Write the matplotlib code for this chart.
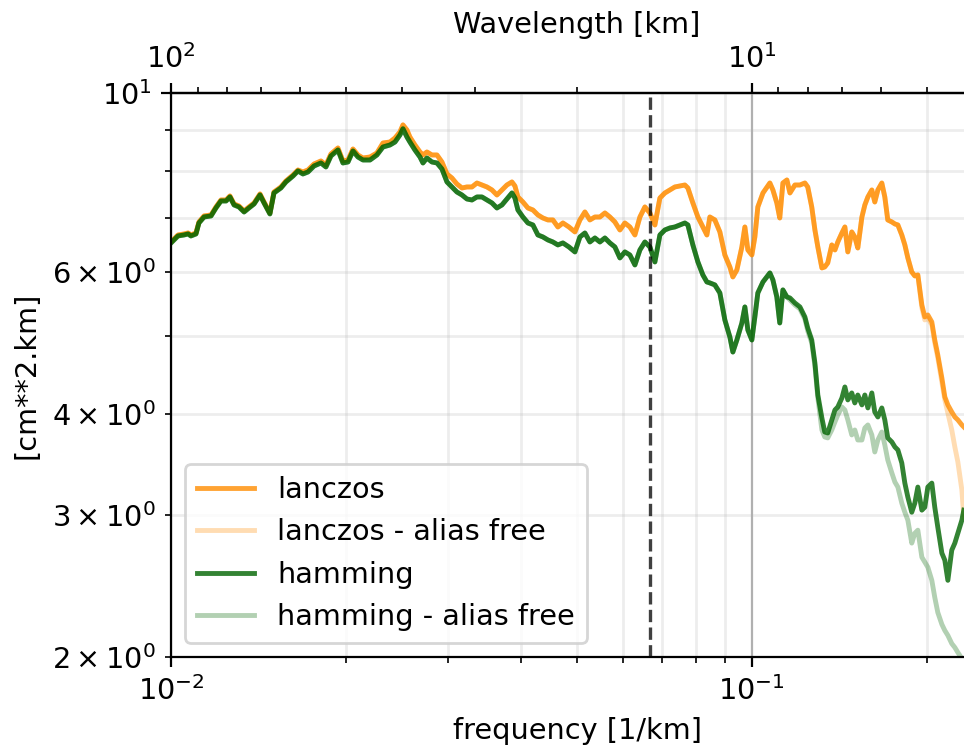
import matplotlib
matplotlib.use("Agg")
import matplotlib.pyplot as plt
from matplotlib.ticker import FixedLocator, LogLocator, NullFormatter

# Power spectra of two interpolation kernels, with and without aliasing
frequency = [
    0.01000, 0.01028, 0.01053, 0.01070, 0.01082, 0.01104, 0.01117, 0.01140, 0.01172, 0.01195,
    0.01219, 0.01244, 0.01263, 0.01284, 0.01309, 0.01336, 0.01362, 0.01390, 0.01423, 0.01446,
    0.01480, 0.01504, 0.01546, 0.01577, 0.01622, 0.01654, 0.01687, 0.01721, 0.01763, 0.01812,
    0.01848, 0.01885, 0.01938, 0.01977, 0.02017, 0.02057, 0.02098, 0.02140,
    0.02201, 0.02262, 0.02317, 0.02382, 0.02430, 0.02478, 0.02508, 0.02548, 0.02578, 0.02630,
    0.02683, 0.02715, 0.02758, 0.02813, 0.02870, 0.02927, 0.02986, 0.03045, 0.03106, 0.03169,
    0.03232, 0.03297, 0.03363, 0.03430, 0.03499, 0.03569, 0.03640, 0.03713, 0.03787, 0.03863,
    0.03909, 0.03956, 0.04035, 0.04116, 0.04198, 0.04282, 0.04368, 0.04455, 0.04544, 0.04635,
    0.04728, 0.04842,
    0.04959, 0.05058, 0.05159, 0.05262, 0.05368, 0.05475, 0.05585, 0.05696, 0.05810, 0.05927,
    0.06045, 0.06166, 0.06290, 0.06416, 0.06544, 0.06675, 0.06809, 0.06945, 0.07084, 0.07226,
    0.07370, 0.07518, 0.07668, 0.07760, 0.07915, 0.08074, 0.08235, 0.08367, 0.08467, 0.08636,
    0.08809, 0.08985, 0.09165, 0.09275, 0.09423, 0.09612, 0.09727, 0.09843, 0.1000, 0.1012,
    0.1024, 0.1045,
    0.1074, 0.1087, 0.1104, 0.1117, 0.1131, 0.1149, 0.1163, 0.1186, 0.1210, 0.1234,
    0.1248, 0.1268, 0.1284, 0.1299, 0.1320, 0.1335, 0.1351, 0.1373, 0.1390, 0.1406,
    0.1429, 0.1446, 0.1463, 0.1486, 0.1504, 0.1522, 0.1547, 0.1565, 0.1584, 0.1609,
    0.1628, 0.1648, 0.1674, 0.1694, 0.1714, 0.1742, 0.1763, 0.1784, 0.1812, 0.1834,
    0.1856, 0.1885, 0.1908, 0.1931, 0.1962, 0.1985, 0.2009, 0.2041, 0.2065, 0.2090,
    0.2124, 0.2149, 0.2175, 0.2209, 0.2236, 0.2263, 0.2299, 0.2317,
]

lanczos = [
    6.537, 6.669, 6.688, 6.707, 6.669, 6.707, 6.921, 7.041, 7.061, 7.224,
    7.369, 7.369, 7.454, 7.286, 7.244, 7.142, 7.224, 7.307, 7.497, 7.327,
    7.101, 7.539, 7.648, 7.780, 7.914, 8.028, 7.982, 8.028, 8.166, 8.237,
    8.143, 8.403, 8.548, 8.237, 8.260, 8.523, 8.379, 8.307,
    8.331, 8.427, 8.670, 8.695, 8.795, 8.947, 9.130, 8.998, 8.820, 8.621,
    8.451, 8.379, 8.451, 8.379, 8.379, 8.213, 7.937, 7.847, 7.713, 7.626,
    7.648, 7.648, 7.735, 7.691, 7.648, 7.583, 7.475, 7.583, 7.691, 7.758,
    7.670, 7.433, 7.327, 7.203, 7.162, 7.061, 7.000, 6.961, 6.961, 6.823,
    6.901, 6.823,
    6.727, 6.961, 7.121, 6.961, 7.020, 7.020, 7.101, 7.020, 6.921, 6.765,
    6.901, 6.823, 6.669, 7.020, 7.224, 7.101, 6.862, 7.411, 7.518, 7.583,
    7.648, 7.670, 7.691, 7.626, 7.307, 7.020, 6.823, 6.669, 7.020, 6.961,
    6.727, 6.299, 6.087, 5.916, 6.035, 6.445, 6.823, 6.390, 6.299, 6.631,
    7.224, 7.518,
    7.735, 7.583, 7.307, 7.000, 7.735, 7.802, 7.518, 7.691, 7.691, 7.735,
    7.648, 7.224, 6.765, 6.445, 6.070, 6.087, 6.157, 6.482, 6.390, 6.537,
    6.707, 6.823, 6.354, 6.727, 6.631, 6.426, 7.020, 7.265, 7.433, 7.583,
    7.327, 7.583, 7.735, 7.433, 6.961, 6.921, 6.882, 6.862, 6.669, 6.482,
    6.246, 6.001, 5.933, 5.950, 5.462, 5.278, 5.308, 5.203, 4.942, 4.735,
    4.434, 4.201, 4.106, 4.024, 3.967, 3.934, 3.878, 3.856,
]

hamming = [
    6.519, 6.650, 6.669, 6.688, 6.650, 6.688, 6.901, 7.020, 7.041, 7.203,
    7.348, 7.348, 7.433, 7.265, 7.224, 7.121, 7.203, 7.286, 7.475, 7.307,
    7.081, 7.518, 7.626, 7.758, 7.891, 8.005, 7.937, 7.982, 8.120, 8.190,
    8.097, 8.355, 8.499, 8.190, 8.213, 8.475, 8.331, 8.260,
    8.260, 8.379, 8.572, 8.621, 8.695, 8.871, 9.030, 8.820, 8.695, 8.499,
    8.331, 8.190, 8.307, 8.213, 8.190, 8.051, 7.758, 7.648, 7.539, 7.475,
    7.390, 7.369, 7.433, 7.433, 7.369, 7.307, 7.203, 7.265, 7.390, 7.518,
    7.411, 7.162, 7.020, 6.901, 6.862, 6.669, 6.631, 6.575, 6.537, 6.482,
    6.519, 6.445,
    6.354, 6.631, 6.707, 6.537, 6.612, 6.537, 6.612, 6.519, 6.445, 6.246,
    6.354, 6.299, 6.122, 6.390, 6.537, 6.445, 6.175, 6.669, 6.765, 6.804,
    6.823, 6.862, 6.901, 6.862, 6.482, 6.175, 5.950, 5.832, 5.816, 5.783,
    5.652, 5.233, 4.985, 4.775, 4.942, 5.188, 5.431, 5.085, 4.942, 5.278,
    5.652, 5.832,
    5.984, 5.866, 5.588, 5.188, 5.701, 5.588, 5.572, 5.493, 5.431, 5.278,
    5.114, 4.942, 4.628, 4.224, 3.956, 3.801, 3.790, 3.934, 4.047, 4.082,
    4.188, 4.322, 4.165, 4.249, 4.129, 4.224, 4.106, 4.224, 4.071, 4.249,
    4.024, 3.967, 4.071, 3.934, 3.737, 3.694, 3.642, 3.611, 3.479, 3.285,
    3.156, 3.023, 3.102, 3.248, 3.041, 3.067, 3.248, 3.285, 3.067, 2.896,
    2.690, 2.636, 2.489, 2.713, 2.768, 2.847, 2.955, 3.041,
]

# Alias-free spectra follow the full spectra at low frequency and
# separate from them near the high-frequency end.
lanczos_split = 166
lanczos_free_tail = [
    5.415, 5.233, 5.262, 5.158, 4.900, 4.695, 4.384, 4.165, 4.013, 3.823,
    3.642, 3.489, 3.222, 2.980,
]
hamming_split = 128
hamming_free_tail = [
    5.540, 5.462, 5.399, 5.247, 5.071, 4.900, 4.588, 4.188, 3.823, 3.747,
    3.737, 3.823, 3.911, 3.990, 4.082, 4.047, 3.934, 3.769, 3.823, 3.715,
    3.715, 3.845, 3.878, 3.769, 3.590, 3.715, 3.801, 3.663, 3.509, 3.381,
    3.295, 3.248, 3.102, 3.023, 2.955, 2.768, 2.847, 2.872, 2.659, 2.621,
    2.584, 2.489, 2.371, 2.271, 2.195, 2.157, 2.127, 2.078, 2.055, 2.026,
    1.991, 1.968,
]
lanczos_free = lanczos[:lanczos_split] + lanczos_free_tail
hamming_free = hamming[:hamming_split] + hamming_free_tail

cutoff_wavelength = 15.0  # km
wavelength_ticks = [100, 10]
frequency_ticks = [0.01, 0.1]

plt.rcParams["font.size"] = 10.35

fig = plt.figure(figsize=(4.82, 3.735), dpi=200)
ax = fig.add_axes([0.1774, 0.1205, 0.8423, 0.7550])

lw = 1.75
ax.loglog(frequency, lanczos, color="darkorange", alpha=0.8, lw=lw, label="lanczos")
ax.loglog(frequency, lanczos_free, color="darkorange", alpha=0.3, lw=lw,
          label="lanczos - alias free")
ax.loglog(frequency, hamming, color="darkgreen", alpha=0.8, lw=lw, label="hamming")
ax.loglog(frequency, hamming_free, color="darkgreen", alpha=0.3, lw=lw,
          label="hamming - alias free")

ax.axvline(1.0 / cutoff_wavelength, color="k", ls="--", lw=1.2, alpha=0.75)

ax.set_xlim(0.01, 0.25)
ax.set_ylim(2, 10)
ax.xaxis.set_major_locator(FixedLocator(frequency_ticks))
ax.xaxis.set_minor_locator(LogLocator(subs=range(2, 10)))
ax.xaxis.set_minor_formatter(NullFormatter())
ax.grid(True, which="major", color="#b0b0b0", lw=0.8)
ax.grid(True, which="minor", color="#b0b0b0", lw=1.0, alpha=0.22)

ax.set_xlabel("frequency [1/km]")
ax.set_ylabel("[cm**2.km]")


def inverse(x):
    return 1.0 / x


top = ax.secondary_xaxis("top", functions=(inverse, inverse))
top.set_xticks(wavelength_ticks)
top.xaxis.set_minor_locator(LogLocator(subs=range(2, 10)))
top.xaxis.set_minor_formatter(NullFormatter())
top.set_xlabel("Wavelength [km]")

ax.legend(loc="lower left")

fig.savefig("out.png", dpi=200)
